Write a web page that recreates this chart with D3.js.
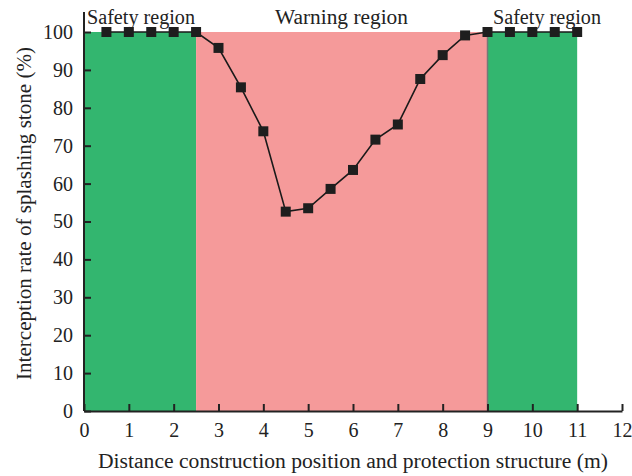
<!DOCTYPE html>
<html><head><meta charset="utf-8">
<script src="https://cdn.jsdelivr.net/npm/d3@7"></script>
<style>body{margin:0;background:#fff}svg{display:block}</style>
</head><body>
<svg id="c" width="632" height="476"></svg>
<script>
const xs = [0.5,1,1.5,2,2.5,3,3.5,4,4.5,5,5.5,6,6.5,7,7.5,8,8.5,9,9.5,10,10.5,11];
const rates = [100,100,100,100,100,95.8,85.4,73.8,52.6,53.5,58.6,63.6,71.6,75.6,87.6,93.9,99.1,100,100,100,100,100];
const regions = [
  {name:"Safety region", from:0, to:2.5, color:"#33b66f"},
  {name:"Warning region", from:2.5, to:9, color:"#f59a9a"},
  {name:"Safety region", from:9, to:11, color:"#33b66f"}
];
const xTicks = [0,1,2,3,4,5,6,7,8,9,10,11,12];
const yTicks = [0,10,20,30,40,50,60,70,80,90,100];

const svg = d3.select("#c");
const font = "'Liberation Serif','DejaVu Serif',serif";
const x = d3.scaleLinear().domain([0,12]).range([84,622]);
const y = d3.scaleLinear().domain([0,100]).range([411,32]);

svg.selectAll("rect.reg").data(regions).join("rect")
  .attr("x", d=>x(d.from)).attr("width", d=>x(d.to)-x(d.from))
  .attr("y", y(100)).attr("height", y(0)-y(100))
  .attr("fill", d=>d.color);
svg.append("line").attr("x1",x(9)).attr("x2",x(9)).attr("y1",y(100)).attr("y2",y(0))
  .attr("stroke","#777").attr("stroke-width",1.5);

// axes
const xAxis = d3.axisBottom(x).tickValues(xTicks).tickSize(-7).tickPadding(12).tickSizeOuter(0);
const gx = svg.append("g").attr("transform",`translate(0,${y(0)})`).call(xAxis);
const yAxis = d3.axisLeft(y).tickValues(yTicks).tickSize(-7).tickPadding(11).tickSizeOuter(0);
const gy = svg.append("g").attr("transform",`translate(${x(0)},0)`).call(yAxis);
gy.select(".domain").attr("d", `M0,${y(0)}V12`);
[gx,gy].forEach(g=>{
  g.select(".domain").attr("stroke","#222").attr("stroke-width",2);
  g.selectAll(".tick line").attr("stroke","#222").attr("stroke-width",2);
  g.selectAll(".tick text").attr("font-family",font).attr("font-size",20).attr("fill","#222");
});
gx.selectAll(".tick text").attr("dy","0.72em");

// line
const line = d3.line().x((d,i)=>x(xs[i])).y(d=>y(d));
svg.append("path").datum(rates).attr("d",line).attr("fill","none").attr("stroke","#1a1a1a").attr("stroke-width",1.6);
svg.selectAll("rect.pt").data(rates).join("rect")
  .attr("x",(d,i)=>x(xs[i])-5).attr("y",d=>y(d)-5).attr("width",10).attr("height",10)
  .attr("fill","#1e1e1e");

// region labels
const lab = [[87,108],[275,133],[493,108]];
regions.forEach((r,i)=>{
  svg.append("text").attr("x",lab[i][0]).attr("y",24).text(r.name)
    .attr("textLength",lab[i][1]).attr("lengthAdjust","spacingAndGlyphs")
    .attr("font-family",font).attr("font-size",20).attr("fill","#222");
});

// axis titles
svg.append("text").attr("x",98).attr("y",468)
  .text("Distance construction position and protection structure (m)")
  .attr("textLength",510).attr("lengthAdjust","spacingAndGlyphs")
  .attr("font-family",font).attr("font-size",20).attr("fill","#222");
svg.append("text").attr("transform","translate(31,380) rotate(-90)")
  .text("Interception rate of splashing stone (%)")
  .attr("textLength",333).attr("lengthAdjust","spacingAndGlyphs")
  .attr("font-family",font).attr("font-size",20).attr("fill","#222");
</script>
</body></html>
